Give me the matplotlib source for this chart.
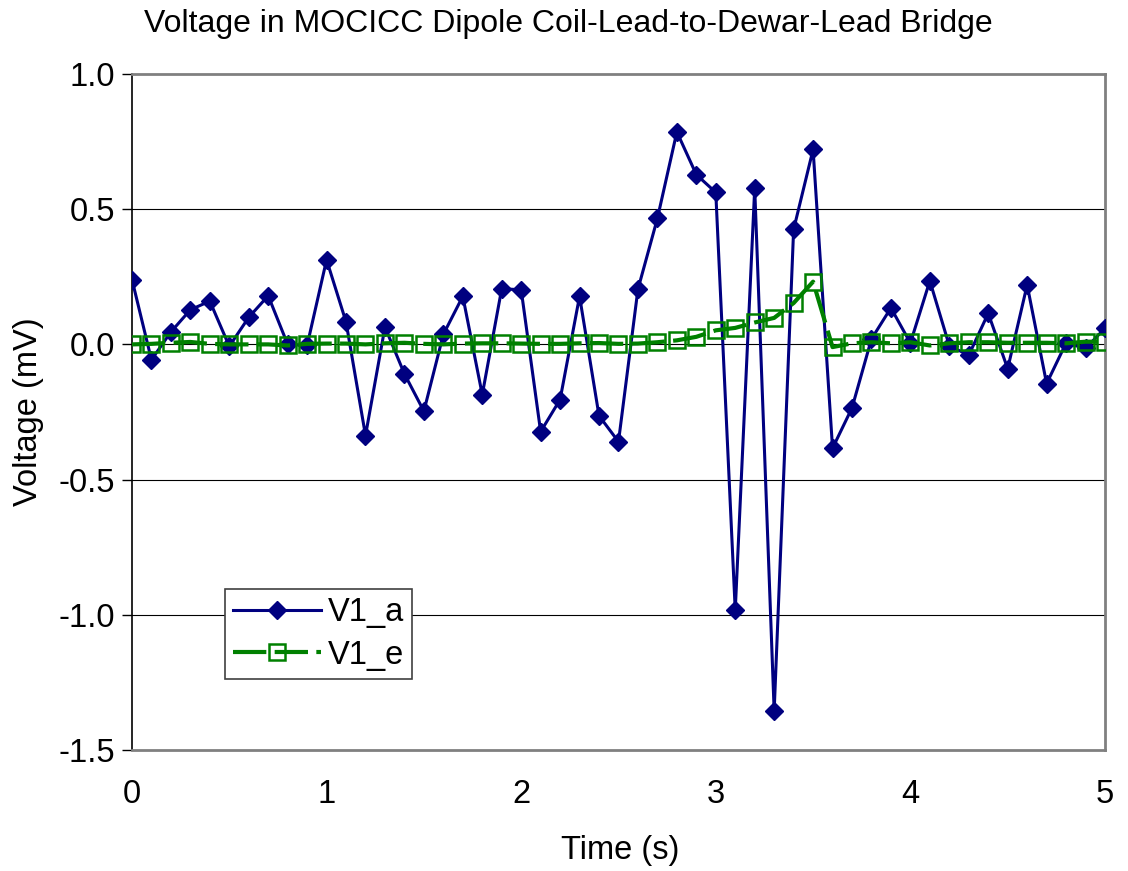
import matplotlib
matplotlib.use('Agg')
import matplotlib.pyplot as plt

plt.rcParams['font.family'] = ['Liberation Sans', 'DejaVu Sans']
plt.rcParams['axes.unicode_minus'] = False

# sample times (s)
time_s = [0.0, 0.1, 0.2, 0.3, 0.4, 0.5, 0.6, 0.7, 0.8, 0.9,
          1.0, 1.1, 1.2, 1.3, 1.4, 1.5, 1.6, 1.7, 1.8, 1.9,
          2.0, 2.1, 2.2, 2.3, 2.4, 2.5, 2.6, 2.7, 2.8, 2.9,
          3.0, 3.1, 3.2, 3.3, 3.4, 3.5, 3.6, 3.7, 3.8, 3.9,
          4.0, 4.1, 4.2, 4.3, 4.4, 4.5, 4.6, 4.7, 4.8, 4.9,
          5.0]

# measured voltage (mV)
v1_a = [0.24, -0.057, 0.046, 0.128, 0.16, -0.007, 0.10, 0.18, 0.0, -0.004,
        0.313, 0.083, -0.337, 0.064, -0.109, -0.247, 0.037, 0.178, -0.186, 0.206,
        0.202, -0.323, -0.204, 0.178, -0.264, -0.36, 0.204, 0.466, 0.786, 0.628,
        0.562, -0.984, 0.578, -1.356, 0.425, 0.721, -0.384, -0.235, 0.02, 0.135,
        0.005, 0.235, -0.005, -0.04, 0.115, -0.09, 0.22, -0.145, 0.005, -0.015,
        0.06]

# expected voltage (mV)
v1_e = [0.0, 0.002, 0.006, 0.009, 0.002, 0.0, 0.0, 0.0, -0.004, 0.002,
        0.003, 0.003, 0.0, 0.004, 0.006, 0.002, 0.0, 0.003, 0.004, 0.004,
        0.003, 0.002, 0.002, 0.004, 0.005, 0.002, 0.003, 0.008, 0.015, 0.028,
        0.052, 0.061, 0.081, 0.098, 0.153, 0.232, -0.01, 0.004, 0.008, 0.004,
        0.008, -0.004, 0.004, 0.008, 0.008, 0.006, 0.006, 0.006, 0.004, 0.01,
        0.01]

y_ticks = [1.0, 0.5, 0.0, -0.5, -1.0, -1.5]
x_ticks = [0, 1, 2, 3, 4, 5]

fig = plt.figure(figsize=(11.28, 8.71), dpi=100)
ax = fig.add_axes([0.117, 0.139, 0.8626, 0.776])

# gridlines
for yv in y_ticks[1:-1]:
    ax.axhline(yv, color='black', lw=0.8, zorder=1)

ax.plot(time_s, v1_a, color='#000080', lw=2.2, marker='D', markersize=9.5,
        markerfacecolor='#000080', markeredgecolor='#000080', label='V1_a',
        zorder=3)
ax.plot(time_s, v1_e, color='#008000', lw=3.0, dashes=(8, 2),
        marker='s', markersize=12, markerfacecolor='none',
        markeredgecolor='#008000', markeredgewidth=1.8, label='V1_e', zorder=4)

ax.set_xlim(0, 5)
ax.set_ylim(-1.5, 1.0)
ax.set_xticks(x_ticks)
ax.set_xticklabels([str(x) for x in x_ticks])
ax.set_yticks(y_ticks)
ax.set_yticklabels(['%.1f' % y for y in y_ticks])

ax.tick_params(axis='y', direction='out', length=7, width=1, color='black',
               labelsize=23.5, pad=5)
ax.tick_params(axis='x', length=0, labelsize=23.5, pad=21)

for side in ['top', 'right', 'bottom']:
    ax.spines[side].set_color('#808080')
    ax.spines[side].set_linewidth(2)
ax.spines['left'].set_color('black')
ax.spines['left'].set_linewidth(1.2)

fig.text(0.504, 0.973, 'Voltage in MOCICC Dipole Coil-Lead-to-Dewar-Lead Bridge',
         ha='center', va='center', fontsize=23)
fig.text(0.55, 0.024, 'Time (s)', ha='center', va='center', fontsize=23.5)
fig.text(0.025, 0.527, 'Voltage (mV)', ha='center', va='center',
         rotation=90, fontsize=23.5)

leg = ax.legend(loc='lower left', bbox_to_anchor=(0.0956, 0.105),
                borderaxespad=0, fontsize=23.5, frameon=True, fancybox=False,
                edgecolor='#404040', framealpha=1, handlelength=2.7,
                handletextpad=0.2, borderpad=0.25, labelspacing=0.35)
leg.get_frame().set_linewidth(1.2)

fig.savefig('out.png', dpi=100)
